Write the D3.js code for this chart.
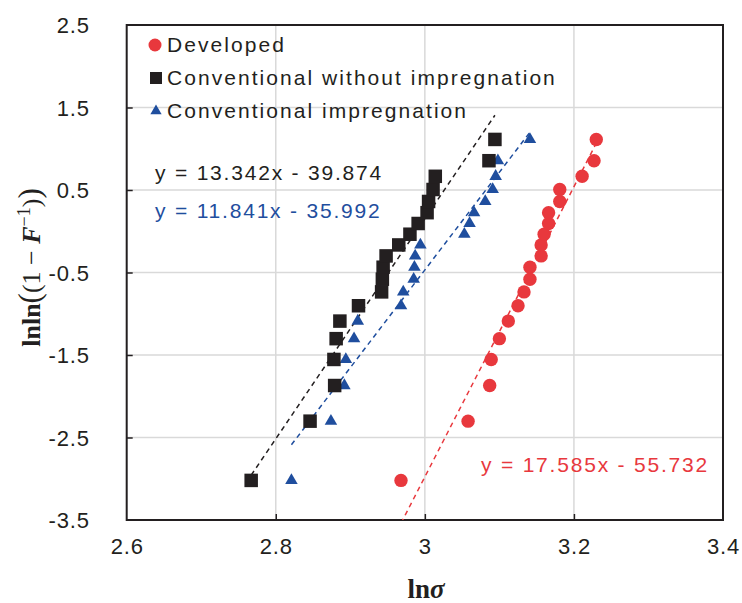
<!DOCTYPE html>
<html>
<head>
<meta charset="utf-8">
<script src="https://cdn.jsdelivr.net/npm/d3@7"></script>
<style>
  html, body { margin: 0; padding: 0; background: #fff; }
  svg { display: block; }
</style>
</head>
<body>
<svg id="chart" width="742" height="603"></svg>
<script>
// ---------- data ----------
const seriesNames = ["Developed", "Conventional without impregnation", "Conventional impregnation"];
const lnF = [-3.020, -2.302, -1.870, -1.554, -1.302, -1.089, -0.903, -0.735, -0.581, -0.436,
             -0.299, -0.166, -0.036, 0.094, 0.225, 0.361, 0.506, 0.666, 0.855, 1.113];
const developedX = [2.968, 3.058, 3.087, 3.089, 3.100, 3.112, 3.125, 3.133, 3.141, 3.141,
                    3.156, 3.156, 3.160, 3.166, 3.166, 3.181, 3.181, 3.211, 3.227, 3.230];
const withoutX = [2.767, 2.846, 2.879, 2.878, 2.881, 2.886, 2.911, 2.942, 2.943, 2.944,
                  2.948, 2.965, 2.980, 2.991, 3.003, 3.005, 3.011, 3.014, 3.086, 3.094];
const impregX = [2.821, 2.874, 2.892, 2.894, 2.905, 2.910, 2.968, 2.971, 2.985, 2.986,
                 2.987, 2.994, 3.053, 3.060, 3.066, 3.081, 3.091, 3.095, 3.098, 3.141];
const slopes = [17.585, 13.342, 11.841];
const intercepts = [-55.732, -39.874, -35.992];
const equationLabels = ["y = 17.585x - 55.732", "y = 13.342x - 39.874", "y = 11.841x - 35.992"];
const xTicks = [2.6, 2.8, 3.0, 3.2, 3.4];
const xTickLabels = ["2.6", "2.8", "3", "3.2", "3.4"];
const yTicks = [2.5, 1.5, 0.5, -0.5, -1.5, -2.5, -3.5];
const yTickLabels = ["2.5", "1.5", "0.5", "-0.5", "-1.5", "-2.5", "-3.5"];

// ---------- styles ----------
const colors = ["#e8383d", "#231f20", "#1f4e9e"];
const axisColor = "#231f20";
const gridColor = "#d9d9d9";
const sansFont = "'Liberation Sans', Arial, sans-serif";
const serifFont = "'Liberation Serif', 'Times New Roman', serif";

const svg = d3.select("#chart");
const plot = { left: 126.7, right: 723, top: 25, bottom: 520 };

const x = d3.scaleLinear().domain([2.6, 3.4]).range([plot.left, plot.right]);
const y = d3.scaleLinear().domain([-3.5, 2.5]).range([plot.bottom, plot.top]);

// clip path
svg.append("defs").append("clipPath").attr("id", "plotclip")
  .append("rect").attr("x", plot.left).attr("y", plot.top)
  .attr("width", plot.right - plot.left).attr("height", plot.bottom - plot.top);

// grid
const grid = svg.append("g");
grid.selectAll("line.vx").data(xTicks.slice(1, -1)).join("line")
  .attr("x1", d => x(d)).attr("x2", d => x(d))
  .attr("y1", plot.top).attr("y2", plot.bottom)
  .attr("stroke", gridColor).attr("stroke-width", 1.5);
grid.selectAll("line.hy").data(yTicks.slice(1, -1)).join("line")
  .attr("y1", d => y(d)).attr("y2", d => y(d))
  .attr("x1", plot.left).attr("x2", plot.right)
  .attr("stroke", gridColor).attr("stroke-width", 1.5);

// axes (inner ticks)
const xAxis = d3.axisBottom(x).tickValues(xTicks).tickSizeInner(-6).tickSizeOuter(0)
  .tickFormat((d, i) => xTickLabels[i]).tickPadding(18);
const gx = svg.append("g").attr("transform", `translate(0,${plot.bottom})`).call(xAxis);
const yAxis = d3.axisLeft(y).tickValues(yTicks).tickSizeInner(-6).tickSizeOuter(0)
  .tickFormat((d, i) => yTickLabels[i]).tickPadding(37);
const gy = svg.append("g").attr("transform", `translate(${plot.left},0)`).call(yAxis);
[gx, gy].forEach(g => {
  g.select(".domain").remove();
  g.selectAll(".tick line").attr("stroke", axisColor).attr("stroke-width", 1.5);
  g.selectAll(".tick text").attr("fill", axisColor)
    .style("font-family", sansFont).style("font-size", "22px").style("letter-spacing", "0.8px");
});
gx.selectAll(".tick text").attr("dy", "0.71em");
gy.selectAll(".tick text").attr("dy", "0.35em");
gx.selectAll(".tick").filter((d, i) => i === 0 || i === xTicks.length - 1).select("line").remove();
gy.selectAll(".tick").filter((d, i) => i === 0 || i === yTicks.length - 1).select("line").remove();

// frame
svg.append("rect").attr("x", plot.left).attr("y", plot.top)
  .attr("width", plot.right - plot.left).attr("height", plot.bottom - plot.top)
  .attr("fill", "none").attr("stroke", axisColor).attr("stroke-width", 2);

// trend lines
const allX = [developedX, withoutX, impregX];
const lineG = svg.append("g").attr("clip-path", "url(#plotclip)");
allX.forEach((xs, s) => {
  const x0 = d3.min(xs), x1 = d3.max(xs);
  lineG.append("line")
    .attr("x1", x(x0)).attr("y1", y(slopes[s] * x0 + intercepts[s]))
    .attr("x2", x(x1)).attr("y2", y(slopes[s] * x1 + intercepts[s]))
    .attr("stroke", colors[s]).attr("stroke-width", 1.5)
    .attr("stroke-dasharray", "5,4");
});

// markers
const circleR = 6.7, sqSize = 13.5, triSize = 68;
const triangle = d3.symbol().type(d3.symbolTriangle).size(triSize);
const ptsG = svg.append("g");
// triangles (blue)
ptsG.selectAll("path.tri").data(impregX.map((v, i) => [v, lnF[i]])).join("path")
  .attr("d", triangle).attr("transform", d => `translate(${x(d[0])},${y(d[1])})`)
  .attr("fill", colors[2]);
// squares (black)
ptsG.selectAll("rect.sq").data(withoutX.map((v, i) => [v, lnF[i]])).join("rect")
  .attr("x", d => x(d[0]) - sqSize / 2).attr("y", d => y(d[1]) - sqSize / 2)
  .attr("width", sqSize).attr("height", sqSize).attr("fill", colors[1]);
// circles (red)
ptsG.selectAll("circle.dev").data(developedX.map((v, i) => [v, lnF[i]])).join("circle")
  .attr("cx", d => x(d[0])).attr("cy", d => y(d[1])).attr("r", circleR)
  .attr("fill", colors[0]);

// equations
const eqPos = [[481, 472], [155, 180], [155, 218]];
equationLabels.forEach((t, i) => {
  svg.append("text").attr("x", eqPos[i][0]).attr("y", eqPos[i][1])
    .attr("fill", colors[i]).style("font-family", sansFont)
    .style("font-size", "21px").style("letter-spacing", "1.8px").text(t);
});

// legend
const legG = svg.append("g");
const legY = [45, 78, 111];
legG.append("circle").attr("cx", 155).attr("cy", legY[0]).attr("r", 6.5).attr("fill", colors[0]);
legG.append("rect").attr("x", 150).attr("y", legY[1] - 6).attr("width", 12).attr("height", 12).attr("fill", colors[1]);
legG.append("path").attr("d", d3.symbol().type(d3.symbolTriangle).size(55)())
  .attr("transform", `translate(156,${legY[2]})`).attr("fill", colors[2]);
seriesNames.forEach((n, i) => {
  legG.append("text").attr("x", 167).attr("y", legY[i]).attr("dy", "0.35em")
    .attr("fill", axisColor).style("font-family", sansFont)
    .style("font-size", "21px").style("letter-spacing", "2.05px").text(n);
});

// axis titles
const xt = svg.append("text").attr("x", 426).attr("y", 598).attr("text-anchor", "middle")
  .attr("fill", axisColor).style("font-family", serifFont).style("font-size", "27px")
  .style("font-weight", "bold");
xt.append("tspan").text("ln");
xt.append("tspan").style("font-style", "italic").text("σ");

const yt = svg.append("text")
  .attr("transform", `translate(40,${(plot.top + plot.bottom) / 2 - 5}) rotate(-90)`)
  .attr("text-anchor", "middle").attr("fill", axisColor)
  .style("font-family", serifFont).style("font-size", "26px").style("font-weight", "bold");
yt.append("tspan").text("lnln");
yt.append("tspan").style("font-size", "31px").style("font-weight", "normal").text("(");
yt.append("tspan").style("font-weight", "normal").text("(1 − ");
yt.append("tspan").style("font-style", "italic").text("F");
yt.append("tspan").attr("dy", "-10").style("font-size", "18px").style("font-weight", "normal").text("−1");
yt.append("tspan").attr("dy", "10").style("font-weight", "normal").text(")");
yt.append("tspan").style("font-size", "31px").style("font-weight", "normal").text(")");
</script>
</body>
</html>
